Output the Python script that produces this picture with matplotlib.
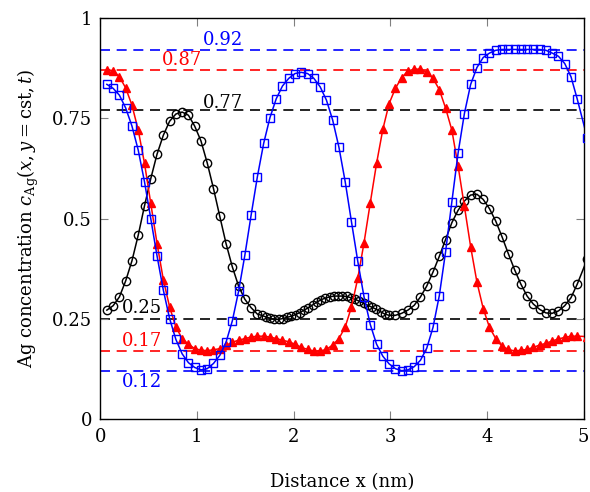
import numpy as np
import matplotlib
matplotlib.use("Agg")
import matplotlib.pyplot as plt

plt.rcParams["font.family"] = "DejaVu Serif"
plt.rcParams["mathtext.fontset"] = "dejavuserif"

# sample positions (nm): regular grid, the black profile is refined between 1.63 and 2.99 nm
x_grid = 0.068 + 0.0649 * np.arange(76)
x_fine = np.linspace(x_grid[24], x_grid[45], 32)[1:-1]
x_black = np.concatenate([x_grid[:25], x_fine, x_grid[45:]])
x_end = 5.04  # last sample sits just past the axis edge

c_blue = [0.835, 0.825, 0.808, 0.776, 0.731, 0.671, 0.592, 0.500, 0.407, 0.322,
          0.251, 0.199, 0.163, 0.141, 0.129, 0.123, 0.126, 0.139, 0.159, 0.192,
          0.245, 0.319, 0.409, 0.509, 0.605, 0.688, 0.752, 0.799, 0.831, 0.850,
          0.862, 0.865, 0.862, 0.850, 0.829, 0.796, 0.746, 0.678, 0.592, 0.492,
          0.394, 0.305, 0.236, 0.187, 0.157, 0.138, 0.126, 0.121, 0.123, 0.131,
          0.147, 0.177, 0.229, 0.308, 0.417, 0.542, 0.664, 0.762, 0.835, 0.877,
          0.902, 0.913, 0.920, 0.922, 0.922, 0.922, 0.922, 0.922, 0.922, 0.922,
          0.920, 0.913, 0.905, 0.887, 0.854, 0.798, 0.700]

c_red = [0.872, 0.869, 0.854, 0.826, 0.783, 0.721, 0.638, 0.538, 0.438, 0.348,
         0.280, 0.230, 0.201, 0.187, 0.176, 0.172, 0.171, 0.173, 0.176, 0.184,
         0.192, 0.197, 0.201, 0.205, 0.207, 0.207, 0.205, 0.201, 0.197, 0.193,
         0.187, 0.179, 0.174, 0.170, 0.170, 0.174, 0.185, 0.201, 0.230, 0.280,
         0.351, 0.440, 0.540, 0.638, 0.723, 0.787, 0.825, 0.852, 0.868, 0.873,
         0.873, 0.865, 0.850, 0.822, 0.776, 0.721, 0.631, 0.531, 0.430, 0.342,
         0.276, 0.229, 0.201, 0.182, 0.174, 0.170, 0.172, 0.174, 0.179, 0.185,
         0.189, 0.195, 0.200, 0.204, 0.207, 0.207, 0.206]

c_black = [0.272, 0.283, 0.305, 0.345, 0.395, 0.459, 0.532, 0.600, 0.661, 0.708,
           0.743, 0.761, 0.766, 0.758, 0.731, 0.694, 0.639, 0.575, 0.506, 0.438,
           0.380, 0.332, 0.299, 0.278, 0.262,
           0.259, 0.255, 0.252, 0.249, 0.249, 0.251, 0.254, 0.257, 0.261, 0.266,
           0.272, 0.278, 0.285, 0.292, 0.298, 0.302, 0.305, 0.307, 0.307, 0.307,
           0.306, 0.303, 0.299, 0.294, 0.289, 0.284, 0.279, 0.274, 0.268, 0.262,
           0.259, 0.259, 0.264, 0.272, 0.284, 0.305, 0.332, 0.367, 0.406, 0.448,
           0.490, 0.521, 0.544, 0.559, 0.561, 0.548, 0.525, 0.494, 0.455, 0.413,
           0.373, 0.337, 0.307, 0.287, 0.274, 0.265, 0.264, 0.270, 0.283, 0.303,
           0.337, 0.400]

ref_levels = [0.92, 0.87, 0.77, 0.25, 0.17, 0.12]
ref_colors = ["blue", "red", "black", "black", "red", "blue"]
ref_label_x = [1.27, 0.85, 1.27, 0.43, 0.43, 0.43]
ref_label_y = [0.945, 0.895, 0.788, 0.277, 0.195, 0.092]

fig = plt.figure(figsize=(5.9, 4.92), dpi=100)
ax = fig.add_axes([0.170, 0.148, 0.819, 0.815])

for lev, col in zip(ref_levels, ref_colors):
    ax.axhline(lev, color=col, lw=1.2, ls=(0, (6, 4)), zorder=1)
for lev, col, tx, ty in zip(ref_levels, ref_colors, ref_label_x, ref_label_y):
    ax.text(tx, ty, f"{lev:.2f}", color=col, fontsize=13, ha="center", va="center")

ax.plot(np.append(x_black, x_end), c_black, color="black", lw=1.1, marker="o",
        ms=6, mfc="none", mec="black", mew=1.0, zorder=3)
ax.plot(np.append(x_grid, x_end), c_red, color="red", lw=1.1, marker="^",
        ms=5.5, mfc="red", mec="red", zorder=3)
ax.plot(np.append(x_grid, x_end), c_blue, color="blue", lw=1.1, marker="s",
        ms=5.5, mfc="none", mec="blue", mew=1.0, zorder=3)

ax.set_xlim(0, 5)
ax.set_ylim(0, 1)
ax.set_xticks([0, 1, 2, 3, 4, 5])
ax.set_xticklabels(["0", "1", "2", "3", "4", "5"])
ax.set_yticks([0, 0.25, 0.5, 0.75, 1])
ax.set_yticklabels(["0", "0.25", "0.5", "0.75", "1"])
ax.tick_params(direction="in", length=6, width=0.8, color="gray",
               top=True, right=True, labelsize=13, pad=6)
for s in ax.spines.values():
    s.set_linewidth(1.0)

ax.set_xlabel("Distance x (nm)", fontsize=13, labelpad=20)
ax.set_ylabel(r"Ag concentration $c_{\mathrm{Ag}}(x, y = \mathrm{cst}, t)$",
              fontsize=13, labelpad=8)

fig.savefig("out.png", dpi=100)
